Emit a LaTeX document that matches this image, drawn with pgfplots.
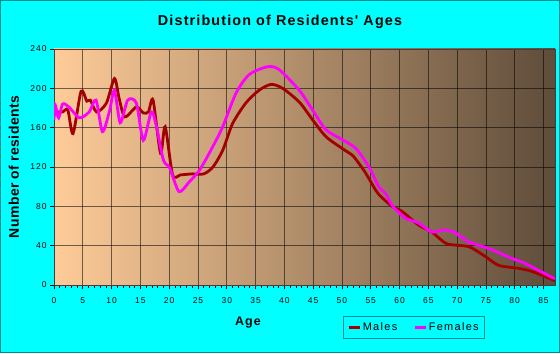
\documentclass[border=0pt]{standalone}
\usepackage{pgfplots}
\pgfplotsset{compat=1.18}
\usepackage{fontspec}
\setmainfont{Liberation Sans}
\newfontfamily\spaced{Liberation Sans}[LetterSpace=12]
\newfontfamily\spacedb{Liberation Sans}[LetterSpace=8]
\newfontfamily\spacedy{Liberation Sans}[LetterSpace=3]
\definecolor{bgcyan}{RGB}{0,255,255}
\definecolor{bordert}{RGB}{0,140,140}
\definecolor{peach}{RGB}{255,204,153}
\definecolor{darkbr}{RGB}{94,76,58}
\definecolor{males}{RGB}{165,0,0}
\definecolor{females}{RGB}{255,0,255}
\begin{document}
\begin{tikzpicture}[x=1bp,y=1bp]
\path[use as bounding box] (0,0) rectangle (560,353);
\fill[bgcyan] (0,0) rectangle (560,353);
\draw[bordert,line width=1bp] (0.5,0.5) rectangle (559.5,352.5);
\node[font=\spacedb\bfseries\fontsize{14.4}{16}\selectfont] at (280,331) {Distribution of Residents' Ages};
\node[font=\spacedy\bfseries\fontsize{14}{16}\selectfont, rotate=90] at (14,186) {Number of residents};
\node[font=\spacedb\bfseries\fontsize{12.5}{14}\selectfont] at (248,30) {Age};
\begin{axis}[
  at={(54bp,68bp)}, anchor=south west,
  width=501bp, height=236bp, scale only axis,
  xmin=0, xmax=87, ymin=0, ymax=240,
  xtick={0,5,...,85}, ytick={0,40,...,240},
  minor x tick num=4,
  tick align=outside,
  major tick length=4bp, minor tick length=3bp,
  tick style={black, line width=0.6bp},
  xtick pos=bottom, ytick pos=left,
  grid=major,
  major grid style={black, opacity=0.55, line width=0.7bp},
  axis line style={black!75, line width=0.7bp},
  axis background/.style={shade, left color=peach, right color=darkbr},
  /pgf/number format/assume math mode=true,
  tick label style={font=\spaced\fontsize{8.5}{10}\selectfont},
  xticklabel style={yshift=-5bp},
  legend columns=2,
  legend style={at={(0.577,-0.131)}, anchor=north west, draw=bordert, fill=bgcyan,
    font=\spaced\fontsize{11}{13}\selectfont, inner xsep=4bp, inner ysep=4.5bp,
    /tikz/every even column/.append style={column sep=14bp}},
  legend image code/.code={\draw[#1, line width=2.5bp] (0bp,0bp) -- (11bp,0bp);},
]
\addplot[males, line width=2.8bp, smooth, tension=0.45] coordinates {
(0,173) (0.7,176) (1.5,176) (2.4,178) (3.3,154) (4.7,197) (5.7,187) (6.3,188)
(7.4,176) (9.1,185) (10.5,210) (11.3,190) (12.3,171) (14.3,181) (15.5,175)
(16.4,176) (17.2,188) (18.5,134) (19.3,161) (20.6,112) (22,112) (24,113)
(26,113) (27.6,120) (29.3,137) (31,164) (33.3,185) (35.6,198) (37.7,204)
(39.7,200) (42.6,186) (44.9,168) (47.2,151) (50,139) (51.8,132) (52.9,124)
(54.1,114) (55.8,97) (56.4,92) (58.7,80) (60.4,75) (63.3,61) (65.6,54)
(68.2,42) (72,39) (74.9,29) (77.2,20) (80.6,17) (82.9,14) (86.4,6) (87,4)
};
\addlegendentry{Males}
\addplot[females, line width=2.8bp, smooth, tension=0.45] coordinates {
(0,168) (0.2,183) (0.8,170) (1.5,184) (2.6,181) (4.4,170) (6.1,176) (7.3,188)
(8.4,156) (9.6,176) (10.5,198) (11.5,165) (12.8,188) (14.3,185) (15.5,147)
(16.9,176) (17.8,161) (19,127) (20.1,119) (21.7,95) (23.5,105) (25.3,117)
(27.6,141) (29.3,161) (31.6,195) (33.9,214) (37.1,222) (39.1,219) (42.6,198)
(44.9,178) (47.2,158) (50,148) (52.4,139) (54.7,120) (56.4,100) (57.6,93)
(58.7,81) (61,68) (63.3,63) (65.6,54) (67.9,56) (69.7,53) (72,44) (76,36)
(79.5,27) (81.8,22) (86.4,8) (87,7)
};
\addlegendentry{Females}
\end{axis}
\end{tikzpicture}
\end{document}
